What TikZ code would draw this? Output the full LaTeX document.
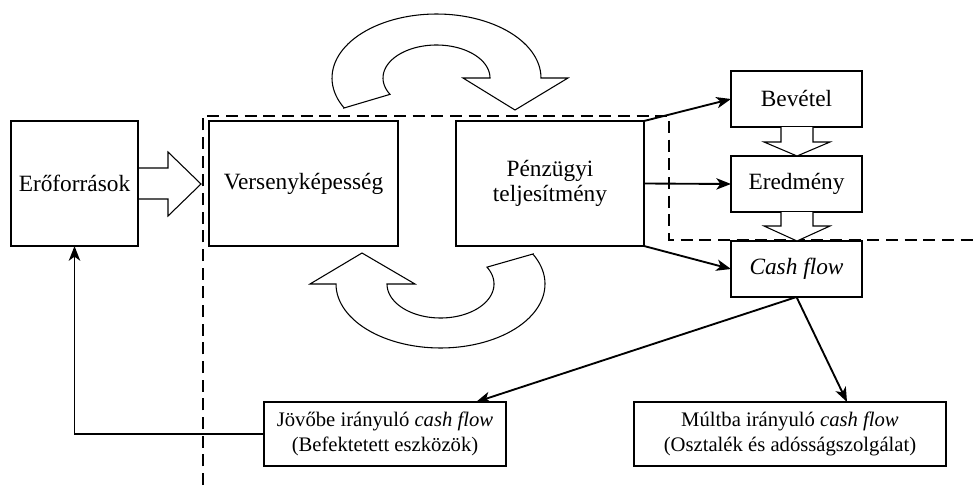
\documentclass[tikz,border=0pt]{standalone}
\usepackage{fontspec}
\setmainfont{Liberation Serif}
\usetikzlibrary{arrows.meta,calc}
\tikzset{
  box/.style={draw, line width=0.8pt, inner sep=0pt, outer sep=0pt, align=center,
    fill=white, font=\fontsize{17.5}{18.5}\selectfont},
  lowbox/.style={box, minimum height=48pt, font=\fontsize{15.5}{18.5}\selectfont},
  conn/.style={line width=1.4pt, -{Stealth[length=11pt,width=8.5pt,inset=3pt]}},
  blockarr/.style={draw, line width=0.8pt, line join=miter},
  sep/.style={line width=1.4pt, dash pattern=on 9pt off 5pt}
}
\begin{document}
\begin{tikzpicture}[x=0.75pt,y=-0.75pt]
\useasboundingbox (0,0) rectangle (973,485);
% dashed boundary
\draw[sep] (203,485) -- (203,116) -- (669,116) -- (669,240) -- (973,240);
% boxes
\node[box, minimum width=95.25pt, minimum height=93.75pt] (res) at (74.5,183.5) {Erőforrások};
\node[box, minimum width=141.75pt, minimum height=93.75pt] (ver) at (303.5,183.5) {Versenyképesség};
\node[box, minimum width=141pt, minimum height=93.75pt] (pen) at (550,183.5) {Pénzügyi\\teljesítmény};
\node[box, minimum width=98.25pt, minimum height=42pt] (bev) at (796.5,99) {Bevétel};
\node[box, minimum width=98.25pt, minimum height=42pt] (ere) at (796.5,184) {Eredmény};
\node[box, minimum width=98.25pt, minimum height=42pt] (cf) at (796.5,269) {\itshape Cash flow};
\node[lowbox, minimum width=181.5pt] (jov) at (385,434) {Jövőbe irányuló \textit{cash flow}\\(Befektetett eszközök)};
\node[lowbox, minimum width=234pt] (mul) at (790,434) {Múltba irányuló \textit{cash flow}\\(Osztalék és adósságszolgálat)};
% block arrows
\draw[blockarr] (138,168) -- (168,168) -- (168,152) -- (201,184) -- (168,216) -- (168,199) -- (138,199);
\draw[blockarr, fill=white] (781,127) -- (781,142) -- (764,142) -- (797,156) -- (830,142) -- (813,142) -- (813,127);
\draw[blockarr, fill=white] (781,212) -- (781,226) -- (764,226) -- (797,241) -- (830,226) -- (813,226) -- (813,212);
% curved block arrows
\draw[blockarr, fill=white] (344,108) -- plot[domain=152.2:360, samples=70] ({436.5+104.5*cos(\x)},{78+64*sin(\x)})
  -- (568,78) -- (515,110) -- (463,78)
  -- plot[domain=360:150.3, samples=60] ({436.5+53.5*cos(\x)},{78+33*sin(\x)}) -- cycle;
\draw[blockarr, fill=white] (362,253) -- (415,284) -- (387,284)
  -- plot[domain=180:-29.7, samples=60] ({440.5+53.5*cos(\x)},{284+34*sin(\x)})
  -- (533,254)
  -- plot[domain=-27.8:180, samples=70] ({440.5+104.5*cos(\x)},{284+64*sin(\x)})
  -- (310,284) -- cycle;
% connectors
\draw[conn] (pen.north east) -- (bev.west);
\draw[conn] (pen.east) -- (ere.west);
\draw[conn] (pen.south east) -- (cf.west);
\coordinate (jt) at ($(jov.north)+(91,0)$);
\coordinate (mt) at ($(mul.north)+(57,0)$);
\draw[conn] (cf.south) -- (jt);
\draw[conn] (cf.south) -- (mt);
\draw[conn] (jov.west) -| (res.south);
\end{tikzpicture}
\end{document}
